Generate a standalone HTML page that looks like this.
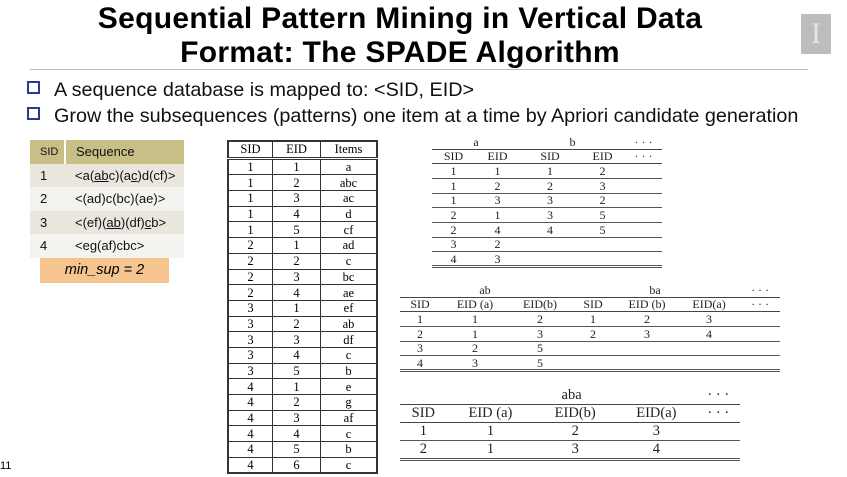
<!DOCTYPE html>
<html><head><meta charset="utf-8"><style>
body{margin:0;width:847px;height:477px;background:#fff;position:relative;overflow:hidden;font-family:"Liberation Sans",sans-serif}
.abs{position:absolute}
.title{left:0;width:800px;text-align:center;font-weight:bold;font-size:30px;line-height:34px;color:#000;letter-spacing:0.3px}
.bul{font-size:19.8px;color:#111}
.bul span.sq{display:inline-block;width:9px;height:9px;border:2px solid #2a3a9a;margin-right:14px;vertical-align:2px}
table{border-collapse:collapse}
.st td{font-size:13px;height:23.5px;padding:0 0 0 10px;color:#111}
.main td{border:1px solid #333;text-align:center;font-family:"Liberation Serif",serif;font-size:12.5px;height:14.7px;padding:0;line-height:14px}
.lt{font-family:"Liberation Serif",serif;color:#222}
.lt td{text-align:center;padding:0}
.sm td{line-height:12px}
.ab tr{height:14.7px}
.abba tr{height:14.7px}
</style></head><body>
<div class="abs title" style="top:2px">Sequential Pattern Mining in Vertical Data</div>
<div class="abs title" style="top:36px">Format: The SPADE Algorithm</div>
<div class="abs" style="left:801px;top:14px;width:30px;height:40px;background:#bdbdbd;color:#e6e6e6;font-family:'Liberation Serif',serif;font-size:30px;text-align:center;line-height:40px">I</div>
<div class="abs" style="left:30px;top:69px;width:778px;height:1px;background:#bbb"></div>
<div class="abs bul" style="left:27px;top:79px"><span class="sq"></span>A sequence database is mapped to: &lt;SID, EID&gt;</div>
<div class="abs bul" style="left:27px;top:105px"><span class="sq"></span>Grow the subsequences (patterns) one item at a time by Apriori candidate generation</div>

<table class="abs st" style="left:30px;top:140px;width:154px">
<tr style="background:#c8bf86"><td style="width:24px;font-size:11px">SID</td><td style="border-left:2px solid #fff">Sequence</td></tr>
<tr style="background:#e9e6de"><td>1</td><td>&lt;a(<u>ab</u>c)(a<u>c</u>)d(cf)&gt;</td></tr>
<tr style="background:#f4f3ef"><td>2</td><td>&lt;(ad)c(bc)(ae)&gt;</td></tr>
<tr style="background:#e9e6de"><td>3</td><td>&lt;(ef)(<u>ab</u>)(df)<u>c</u>b&gt;</td></tr>
<tr style="background:#f4f3ef"><td>4</td><td>&lt;eg(af)cbc&gt;</td></tr>
</table>
<div class="abs" style="left:40px;top:258px;width:129px;height:25px;background:#f6c58f;text-align:center;line-height:25px;font-size:14.5px;font-style:italic">min_sup = 2</div>

<table class="abs main" style="left:227px;top:140px;width:151px;border:2px solid #333">
<tr style="border-bottom:3px double #333"><td style="width:43px">SID</td><td style="width:47px">EID</td><td>Items</td></tr>
<tr><td>1</td><td>1</td><td>a</td></tr><tr><td>1</td><td>2</td><td>abc</td></tr><tr><td>1</td><td>3</td><td>ac</td></tr><tr><td>1</td><td>4</td><td>d</td></tr><tr><td>1</td><td>5</td><td>cf</td></tr>
<tr><td>2</td><td>1</td><td>ad</td></tr><tr><td>2</td><td>2</td><td>c</td></tr><tr><td>2</td><td>3</td><td>bc</td></tr><tr><td>2</td><td>4</td><td>ae</td></tr>
<tr><td>3</td><td>1</td><td>ef</td></tr><tr><td>3</td><td>2</td><td>ab</td></tr><tr><td>3</td><td>3</td><td>df</td></tr><tr><td>3</td><td>4</td><td>c</td></tr><tr><td>3</td><td>5</td><td>b</td></tr>
<tr><td>4</td><td>1</td><td>e</td></tr><tr><td>4</td><td>2</td><td>g</td></tr><tr><td>4</td><td>3</td><td>af</td></tr><tr><td>4</td><td>4</td><td>c</td></tr><tr><td>4</td><td>5</td><td>b</td></tr><tr><td>4</td><td>6</td><td>c</td></tr>
</table>

<table class="abs lt sm ab" style="left:432px;top:136px;width:230px;font-size:12px;table-layout:fixed">
<colgroup><col style="width:43px"><col style="width:45px"><col style="width:60px"><col style="width:45px"><col style="width:37px"></colgroup>
<tr style="height:13px"><td colspan="2">a</td><td colspan="2">b</td><td>· · ·</td></tr>
<tr style="border-top:1px solid #444;border-bottom:1px solid #444"><td>SID</td><td>EID</td><td>SID</td><td>EID</td><td>· · ·</td></tr>
<tr style="border-bottom:1px solid #555"><td>1</td><td>1</td><td>1</td><td>2</td><td></td></tr>
<tr style="border-bottom:1px solid #555"><td>1</td><td>2</td><td>2</td><td>3</td><td></td></tr>
<tr style="border-bottom:1px solid #555"><td>1</td><td>3</td><td>3</td><td>2</td><td></td></tr>
<tr style="border-bottom:1px solid #555"><td>2</td><td>1</td><td>3</td><td>5</td><td></td></tr>
<tr style="border-bottom:1px solid #555"><td>2</td><td>4</td><td>4</td><td>5</td><td></td></tr>
<tr style="border-bottom:1px solid #555"><td>3</td><td>2</td><td></td><td></td><td></td></tr>
<tr style="border-bottom:3px double #555"><td>4</td><td>3</td><td></td><td></td><td></td></tr>
</table>

<table class="abs lt sm abba" style="left:400px;top:283px;width:380px;font-size:12px;table-layout:fixed">
<colgroup><col style="width:40px"><col style="width:70px"><col style="width:60px"><col style="width:46px"><col style="width:62px"><col style="width:62px"><col style="width:40px"></colgroup>
<tr style="height:14px"><td colspan="3">ab</td><td colspan="3">ba</td><td>· · ·</td></tr>
<tr style="border-top:1px solid #444;border-bottom:1px solid #444"><td>SID</td><td>EID (a)</td><td>EID(b)</td><td>SID</td><td>EID (b)</td><td>EID(a)</td><td>· · ·</td></tr>
<tr style="border-bottom:1px solid #555"><td>1</td><td>1</td><td>2</td><td>1</td><td>2</td><td>3</td><td></td></tr>
<tr style="border-bottom:1px solid #555"><td>2</td><td>1</td><td>3</td><td>2</td><td>3</td><td>4</td><td></td></tr>
<tr style="border-bottom:1px solid #555"><td>3</td><td>2</td><td>5</td><td></td><td></td><td></td><td></td></tr>
<tr style="border-bottom:3px double #555"><td>4</td><td>3</td><td>5</td><td></td><td></td><td></td><td></td></tr>
</table>

<table class="abs lt" style="left:400px;top:387px;width:340px;font-size:14.5px">
<tr style="height:17px"><td></td><td colspan="3">aba</td><td>· · ·</td></tr>
<tr style="height:18px;border-top:1px solid #444;border-bottom:1px solid #444"><td>SID</td><td>EID (a)</td><td>EID(b)</td><td>EID(a)</td><td>· · ·</td></tr>
<tr style="height:17px;border-bottom:1px solid #555"><td>1</td><td>1</td><td>2</td><td>3</td><td></td></tr>
<tr style="height:17px;border-bottom:3px double #555"><td>2</td><td>1</td><td>3</td><td>4</td><td></td></tr>
</table>
<div class="abs" style="left:0;top:460px;font-size:11px">11</div>
</body></html>
